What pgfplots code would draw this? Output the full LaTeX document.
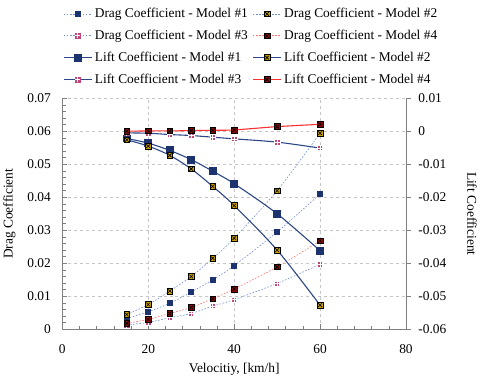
\documentclass[border=0pt]{standalone}
\usepackage{fontspec}
\setmainfont{Liberation Serif}
\usepackage{pgfplots}
\pgfplotsset{compat=1.18}

\definecolor{navy}{HTML}{1C3370}
\definecolor{liftblue}{HTML}{2B4788}
\definecolor{dotblue}{HTML}{7090D0}
\definecolor{gold}{HTML}{C9A000}
\definecolor{pinkm}{HTML}{C0457A}
\definecolor{darkredm}{HTML}{8B0A0A}
\definecolor{redline}{HTML}{FF3030}
\definecolor{dotred}{HTML}{FF7070}
\definecolor{axgray}{HTML}{808080}

% square with an x inside
\pgfdeclareplotmark{sqx}{%
  \pgfpathrectangle{\pgfpoint{-\pgfplotmarksize}{-\pgfplotmarksize}}{\pgfpoint{2\pgfplotmarksize}{2\pgfplotmarksize}}%
  \pgfusepathqfillstroke
  \pgfpathmoveto{\pgfpoint{-.65\pgfplotmarksize}{-.65\pgfplotmarksize}}%
  \pgfpathlineto{\pgfpoint{.65\pgfplotmarksize}{.65\pgfplotmarksize}}%
  \pgfpathmoveto{\pgfpoint{-.65\pgfplotmarksize}{.65\pgfplotmarksize}}%
  \pgfpathlineto{\pgfpoint{.65\pgfplotmarksize}{-.65\pgfplotmarksize}}%
  \pgfusepathqstroke}
% square with a white plus inside
\pgfdeclareplotmark{sqplus}{%
  \pgfpathrectangle{\pgfpoint{-\pgfplotmarksize}{-\pgfplotmarksize}}{\pgfpoint{2\pgfplotmarksize}{2\pgfplotmarksize}}%
  \pgfusepathqfillstroke
  \pgfsetstrokecolor{white}%
  \pgfpathmoveto{\pgfpoint{0pt}{-\pgfplotmarksize}}%
  \pgfpathlineto{\pgfpoint{0pt}{\pgfplotmarksize}}%
  \pgfpathmoveto{\pgfpoint{-\pgfplotmarksize}{0pt}}%
  \pgfpathlineto{\pgfpoint{\pgfplotmarksize}{0pt}}%
  \pgfusepathqstroke}

\newcommand{\bigfont}{\fontsize{13.5}{16}\selectfont}

\pgfplotsset{
  dragline/.style={line width=0.6pt, smooth, dash pattern=on 1.6pt off 1.6pt},
  dragA/.style={dragline, dotblue, mark=square*, mark size=2.5pt, mark options={solid, fill=navy, draw=navy}},
  dragB/.style={dragline, dotblue, mark=sqx, mark size=2.8pt, mark options={solid, fill=gold, draw=black, line width=0.6pt}},
  dragC/.style={dragline, dotblue, mark=sqplus, mark size=2.6pt, mark options={solid, fill=pinkm, draw=pinkm, line width=0.6pt}},
  dragD/.style={dragline, dotred, mark=sqx, mark size=2.8pt, mark options={solid, fill=darkredm, draw=black, line width=0.6pt}},
  liftA/.style={liftblue, line width=1.1pt, smooth, mark=square*, mark size=3.4pt, mark options={fill=navy, draw=navy}},
  liftB/.style={liftblue, line width=1.1pt, smooth, mark=sqx, mark size=2.9pt, mark options={fill=gold, draw=black, line width=0.6pt}},
  liftC/.style={liftblue, line width=1.1pt, smooth, mark=sqplus, mark size=2.7pt, mark options={fill=pinkm, draw=pinkm, line width=0.6pt}},
  liftD/.style={redline, line width=1.1pt, smooth, mark=sqx, mark size=2.9pt, mark options={fill=darkredm, draw=black, line width=0.6pt}},
  common/.style={
    width=345bp, height=232bp, scale only axis,
    xmin=0, xmax=80,
    ticklabel style={font=\bigfont},
    label style={font=\bigfont},
    /pgf/number format/assume math mode=true,
    /pgf/number format/fixed, /pgf/number format/precision=2,
    scaled y ticks=false,
    axis line style={axgray, line width=0.8pt},
    major tick style={axgray, line width=0.6pt},
    minor tick style={axgray, line width=0.5pt},
  },
}

\begin{document}
\begin{tikzpicture}
\begin{axis}[
  common,
  ymin=0, ymax=0.07,
  ytick={0,0.01,0.02,0.03,0.04,0.05,0.06,0.07},
  xtick={0,20,40,60,80},
  minor x tick num=4, minor y tick num=4,
  tick align=inside,
  major tick length=5bp, minor tick length=3.5bp,
  axis x line*=bottom, axis y line*=left,
  grid=major,
  major grid style={dashed, gray!45, line width=0.4pt},
  yticklabel style={xshift=-8bp},
  xticklabel style={yshift=-12bp},
  xlabel={Velocitiy, [km/h]},
  xlabel style={yshift=-3bp},
  ylabel={Drag Coefficient},
  ylabel style={yshift=5bp},
  legend columns=2,
  legend cell align=left,
  legend style={draw=none, fill=none, at={(0.0015,1.02)}, anchor=south west,
    inner xsep=0pt, inner ysep=6bp,
    font=\bigfont, row sep=6bp,
    nodes={inner sep=2.5pt, font=\bigfont},
    /tikz/every even column/.append style={column sep=2pt}},
  legend image code/.code={\draw[mark repeat=2, mark phase=2, #1] plot coordinates {(0cm,0cm) (0.5cm,0cm) (1cm,0cm)};},
]
\addplot[dragA] coordinates {(15,0.0033)(20,0.0053)(25,0.0079)(30,0.0113)(35,0.0150)(40,0.0193)(50,0.0295)(60,0.0410)};
\addlegendentry{Drag Coefficient - Model \#1}
\addplot[dragB] coordinates {(15,0.0045)(20,0.0075)(25,0.0116)(30,0.0160)(35,0.0215)(40,0.0276)(50,0.0420)(60,0.0594)};
\addlegendentry{Drag Coefficient - Model \#2}
\addplot[dragC] coordinates {(15,0.0013)(20,0.0021)(25,0.0035)(30,0.0048)(35,0.0070)(40,0.0090)(50,0.0139)(60,0.0197)};
\addlegendentry{Drag Coefficient - Model \#3}
\addplot[dragD] coordinates {(15,0.0018)(20,0.0030)(25,0.0048)(30,0.0066)(35,0.0093)(40,0.0122)(50,0.0189)(60,0.0268)};
\addlegendentry{Drag Coefficient - Model \#4}
\addlegendimage{liftA}\addlegendentry{Lift Coefficient - Model \#1}
\addlegendimage{liftB}\addlegendentry{Lift Coefficient - Model \#2}
\addlegendimage{liftC}\addlegendentry{Lift Coefficient - Model \#3}
\addlegendimage{liftD}\addlegendentry{Lift Coefficient - Model \#4}
\end{axis}
\begin{axis}[
  common,
  ymin=-0.06, ymax=0.01,
  ytick={-0.06,-0.05,-0.04,-0.03,-0.02,-0.01,0,0.01},
  axis x line=none, axis y line*=right,
  ytick align=outside,
  major tick length=5bp,
  yticklabel style={xshift=4bp},
  ylabel={Lift Coefficient},
  ylabel style={rotate=180, yshift=14bp},
]
\addplot[liftA] coordinates {(15,-0.0022)(20,-0.0036)(25,-0.0058)(30,-0.0086)(35,-0.0121)(40,-0.0159)(50,-0.0250)(60,-0.0362)};
\addplot[liftB] coordinates {(15,-0.0026)(20,-0.0045)(25,-0.0073)(30,-0.0114)(35,-0.0167)(40,-0.0225)(50,-0.0360)(60,-0.0527)};
\addplot[liftC] coordinates {(15,-0.0005)(20,-0.0006)(25,-0.0010)(30,-0.0013)(35,-0.0018)(40,-0.0023)(50,-0.0033)(60,-0.0051)};
\addplot[liftD] coordinates {(15,0)(20,0.0001)(25,0.0001)(30,0.0002)(35,0.0003)(40,0.0004)(50,0.0014)(60,0.0021)};
\end{axis}
\end{tikzpicture}
\end{document}
